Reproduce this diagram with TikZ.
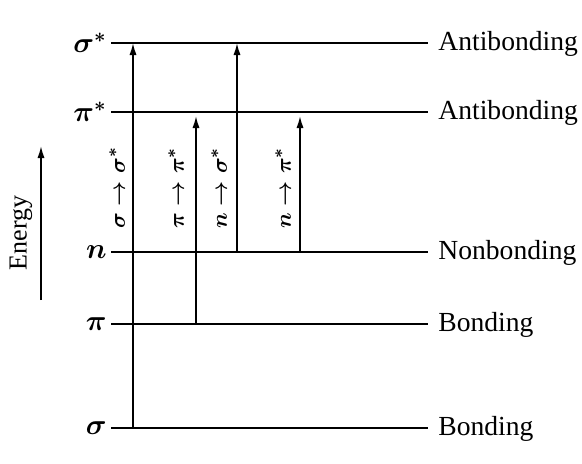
\documentclass[tikz,border=0pt]{standalone}
\usepackage{fontspec}
\setmainfont{Liberation Serif}
\usetikzlibrary{arrows.meta}
\begin{document}
\begin{tikzpicture}[x=0.5pt,y=-0.5pt,
  lvl/.style={line width=0.8pt},
  trans/.style={line width=0.8pt,-{Latex[length=6pt,width=3.6pt]}},
  rlab/.style={anchor=west,inner sep=2pt,font=\fontsize{13.8}{16}\selectfont},
  llab/.style={anchor=east,inner sep=2pt,font=\fontsize{14}{16}\selectfont\boldmath},
  tlab/.style={rotate=90,inner sep=1pt,font=\fontsize{10.8}{13}\selectfont\boldmath}]
\useasboundingbox (0,0) rectangle (582,463);
% level end points
\foreach \n/\y in {ss/43,ps/112,nn/252,pp/324,s/428}{
  \coordinate (\n L) at (111,\y);
  \coordinate (\n R) at (428,\y);
  \coordinate (\n T) at (434,\y+1);
}
\draw[lvl] (ssL) -- (ssR);
\draw[lvl] (psL) -- (psR);
\draw[lvl] (nnL) -- (nnR);
\draw[lvl] (ppL) -- (ppR);
\draw[lvl] (sL) -- (sR);
% left labels
\node[llab] (lss) at (ssL) {$\sigma^*$};
\node[llab] (lps) at (psL) {$\pi^*$};
\node[llab] (lnn) at (nnL) {$n$};
\node[llab] (lpp) at (ppL) {$\pi$};
\node[llab] (ls) at (sL) {$\sigma$};
% right labels
\node[rlab] (rss) at (ssT) {Antibonding};
\node[rlab] (rps) at (psT) {Antibonding};
\node[rlab] (rnn) at (nnT) {Nonbonding};
\node[rlab] (rpp) at (ppT) {Bonding};
\node[rlab] (rs) at (sT) {Bonding};
% transitions
\coordinate (a1s) at (133,428); \coordinate (a1e) at (133,43);
\coordinate (a2s) at (196,324); \coordinate (a2e) at (196,116);
\coordinate (a3s) at (237,252); \coordinate (a3e) at (237,43);
\coordinate (a4s) at (300,252); \coordinate (a4e) at (300,116);
\draw[trans] (a1s) -- (a1e);
\draw[trans] (a2s) -- (a2e);
\draw[trans] (a3s) -- (a3e);
\draw[trans] (a4s) -- (a4e);
\node[tlab] (t1) at (117,188) {$\sigma\rightarrow\sigma^*$};
\node[tlab] (t2) at (176,188) {$\pi\rightarrow\pi^*$};
\node[tlab] (t3) at (219,188) {$n\rightarrow\sigma^*$};
\node[tlab] (t4) at (283,188) {$n\rightarrow\pi^*$};
% energy axis
\node[tlab,font=\fontsize{13}{16}\selectfont] (en) at (21,233) {Energy};
\coordinate (e0) at (41,300); \coordinate (e1) at (41,146);
\draw[trans] (e0) -- (e1);
\end{tikzpicture}
\end{document}
